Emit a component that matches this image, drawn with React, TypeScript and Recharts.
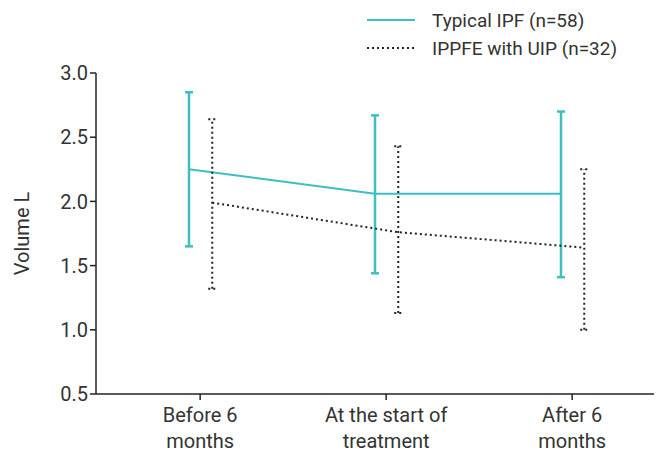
import React from 'react';
import { LineChart, Line, XAxis, YAxis, ErrorBar } from 'recharts';

const categories = ['Before 6\nmonths', 'At the start of\ntreatment', 'After 6\nmonths'];

const ipfMean = [2.25, 2.06, 2.06];
const ipfLow = [1.65, 1.44, 1.41];
const ipfHigh = [2.85, 2.67, 2.7];

const ippfeMean = [1.99, 1.76, 1.64];
const ippfeLow = [1.32, 1.13, 1.0];
const ippfeHigh = [2.64, 2.43, 2.25];

const yTicks = [0.5, 1.0, 1.5, 2.0, 2.5, 3.0];

const TEAL = '#3dbfc2';
const DARK = '#222222';
const TEXT = '#333333';
const FONT = 'Roboto, sans-serif';

// each category sits on [i, i+1]; series are nudged left/right of the tick
const TICK_POS = 0.56;
const IPF_POS = 0.5;
const IPPFE_POS = 0.625;

const build = (mean: number[], low: number[], high: number[], pos: number) =>
  mean.map((m, i) => ({ x: i + pos, y: m, err: [m - low[i], high[i] - m] }));

const ipfData = build(ipfMean, ipfLow, ipfHigh, IPF_POS);
const ippfeData = build(ippfeMean, ippfeLow, ippfeHigh, IPPFE_POS);

const CategoryTick = (props: any) => {
  const { x, y, payload } = props;
  const idx = Math.round(payload.value - TICK_POS);
  const lines = (categories[idx] || '').split('\n');
  return (
    <text x={x} y={y} textAnchor="middle" fill={TEXT} fontSize={20} fontFamily={FONT}>
      {lines.map((l, i) => (
        <tspan key={i} x={x} dy={i === 0 ? 20 : 26}>{l}</tspan>
      ))}
    </text>
  );
};

function LegendBox() {
  const items = [
    { label: 'Typical IPF (n=58)', color: TEAL, dash: undefined },
    { label: 'IPPFE with UIP (n=32)', color: DARK, dash: '2 3' },
  ];
  return (
    <div style={{ position: 'absolute', left: 366, top: 6, fontFamily: FONT, fontSize: 19, color: TEXT }}>
      {items.map((it) => (
        <div key={it.label} style={{ display: 'flex', alignItems: 'center', height: 28 }}>
          <svg width={50} height={10} style={{ marginRight: 16 }}>
            <line x1={1} y1={5} x2={49} y2={5} stroke={it.color} strokeWidth={2} strokeDasharray={it.dash} />
          </svg>
          <span>{it.label}</span>
        </div>
      ))}
    </div>
  );
}

export default function App() {
  return (
    <div style={{ position: 'relative', width: 660, height: 452, background: '#fff' }}>
      <style>{'body{margin:0;}'}</style>
      <LegendBox />
      <LineChart width={660} height={452} margin={{ top: 73, right: 6, bottom: 0, left: 0 }}>
        <XAxis
          type="number"
          dataKey="x"
          domain={[0, 3]}
          ticks={categories.map((_, i) => i + TICK_POS)}
          tick={<CategoryTick />}
          height={58}
          stroke={DARK}
          strokeWidth={1.5}
          tickSize={6}
          interval={0}
        />
        <YAxis
          type="number"
          domain={[0.5, 3]}
          ticks={yTicks}
          tickFormatter={(v: number) => v.toFixed(1)}
          width={96}
          stroke={DARK}
          strokeWidth={1.5}
          tickSize={6}
          tick={{ fill: TEXT, fontSize: 20, fontFamily: FONT }}
          label={{ value: 'Volume L', angle: -90, position: 'insideLeft', offset: 22, fill: TEXT, fontSize: 20, fontFamily: FONT, style: { textAnchor: 'middle' } }}
        />
        <Line
          data={ipfData}
          dataKey="y"
          stroke={TEAL}
          strokeWidth={2}
          dot={false}
          activeDot={false}
          isAnimationActive={false}
        >
          <ErrorBar dataKey="err" direction="y" stroke={TEAL} strokeWidth={2.5} width={4} />
        </Line>
        <Line
          data={ippfeData}
          dataKey="y"
          stroke={DARK}
          strokeWidth={2}
          strokeDasharray="2 3"
          dot={false}
          activeDot={false}
          isAnimationActive={false}
        >
          <ErrorBar dataKey="err" direction="y" stroke={DARK} strokeWidth={2} strokeDasharray="2 3" width={4} />
        </Line>
      </LineChart>
    </div>
  );
}
